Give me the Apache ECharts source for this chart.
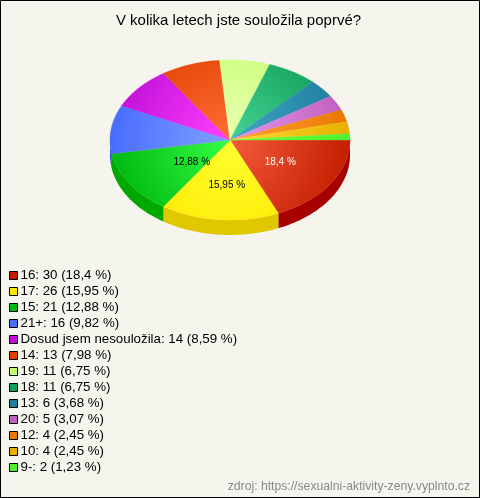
<!DOCTYPE html>
<html><head><meta charset="utf-8">
<style>html,body{margin:0;padding:0;background:#f5f5ee}#c{width:480px;height:498px}</style>
<script src="https://cdn.jsdelivr.net/npm/echarts@6/dist/echarts.min.js"></script>
</head><body><div id="c"></div>
<script>
const categories=["16","17","15","21+","Dosud jsem nesoulo\u017eila","14","19","18","13","20","12","10","9-"];
const counts=[30,26,21,16,14,13,11,11,6,5,4,4,2];
const percents=["18,4","15,95","12,88","9,82","8,59","7,98","6,75","6,75","3,68","3,07","2,45","2,45","1,23"];
const outerColors=["#c41e00","#ffe800","#00b810","#4a6cff","#c010d8","#e04000","#c4ff70","#0f9d58","#1f7f9f","#c060c0","#e87800","#e8b000","#50f030"];
const innerColors=["#f45c3c","#ffff30","#34ff44","#7ea2ff","#ff40ff","#ff6c34","#eaffb4","#44d494","#44a4c4","#e494ec","#ffa434","#ffdc34","#70ff40"];
const sideColors=["#a80000","#e0c800","#00a800","#3050d0","#9000a0","#a83000","#90c050","#087040","#105870","#904090","#b05800","#b08000","#30b020"];
const labelled=[0,1,2];
const labelShift={0:[0,0],1:[2,5],2:[12,0]};
const CX=230,CY=140,RX=120,RY=80,DEPTH=15;
const total=counts.reduce((a,b)=>a+b,0);
const pt=(a,dy)=>[CX+RX*Math.cos(a),CY+RY*Math.sin(a)+(dy||0)];
function arc(a0,a1,dy){const n=Math.max(2,Math.ceil((a1-a0)/0.02));const out=[];for(let i=0;i<=n;i++)out.push(pt(a0+(a1-a0)*i/n,dy));return out;}
let cum=0;
const series=counts.map((v,i)=>{
  const a0=cum/total*2*Math.PI;cum+=v;const a1=cum/total*2*Math.PI;
  return {type:'custom',name:categories[i]+': '+v+' ('+percents[i]+' %)',coordinateSystem:'none',silent:true,animation:false,
    itemStyle:{color:outerColors[i]},data:[[v]],
    renderItem(){
      const children=[];
      const s0=Math.max(a0,0),s1=Math.min(a1,Math.PI);
      if(s1>s0){
        const top=arc(s0,s1,0),bot=arc(s0,s1,DEPTH).reverse();
        children.push({type:'polygon',shape:{points:top.concat(bot)},style:{fill:sideColors[i]}});
      }
      const grad={type:'radial',x:CX,y:CY,r:RX,global:true,colorStops:[{offset:0,color:innerColors[i]},{offset:1,color:outerColors[i]}]};
      children.push({type:'polygon',shape:{points:[[CX,CY]].concat(arc(a0,a1,0))},style:{fill:grad,stroke:grad,lineWidth:0.4}});
      if(labelled.includes(i)){
        const m=(a0+a1)/2,sh=labelShift[i];
        children.push({type:'text',z2:10,style:{x:CX+RX*0.5*Math.cos(m)+sh[0],y:CY+RY*0.5*Math.sin(m)+sh[1],text:percents[i]+' %',fill:i===0?'#fff':'#000',font:'10px "Liberation Sans"',textAlign:'center',textVerticalAlign:'middle'}});
      }
      return {type:'group',children};
    }};
});
const chart=echarts.init(document.getElementById('c'),null,{renderer:'canvas'});
chart.setOption({
  backgroundColor:'#f5f5ee',animation:false,
  title:{text:'V kolika letech jste soulo\u017eila poprv\u00e9?',left:233.5,top:8,textAlign:'center',textStyle:{fontFamily:'Liberation Sans',fontSize:15,fontWeight:'normal',color:'#000'}},
  legend:{orient:'vertical',left:9,top:269,itemWidth:8,itemHeight:8,itemGap:3,selectedMode:false,icon:'rect',padding:0,
    itemStyle:{borderColor:'#000',borderWidth:1},
    textStyle:{fontFamily:'Liberation Sans',fontSize:13.3,color:'#000',padding:[0,0,0,-2]},
    data:series.map(s=>s.name)},
  graphic:[
    {type:'rect',silent:true,shape:{x:0.5,y:0.5,width:479,height:497},style:{fill:'none',stroke:'#000',lineWidth:1}},
    {type:'text',silent:true,right:10,top:481,style:{text:'zdroj: https://sexualni-aktivity-zeny.vyplnto.cz',fill:'#888',font:'12.2px "Liberation Sans"'}}
  ],
  series
});
</script></body></html>
